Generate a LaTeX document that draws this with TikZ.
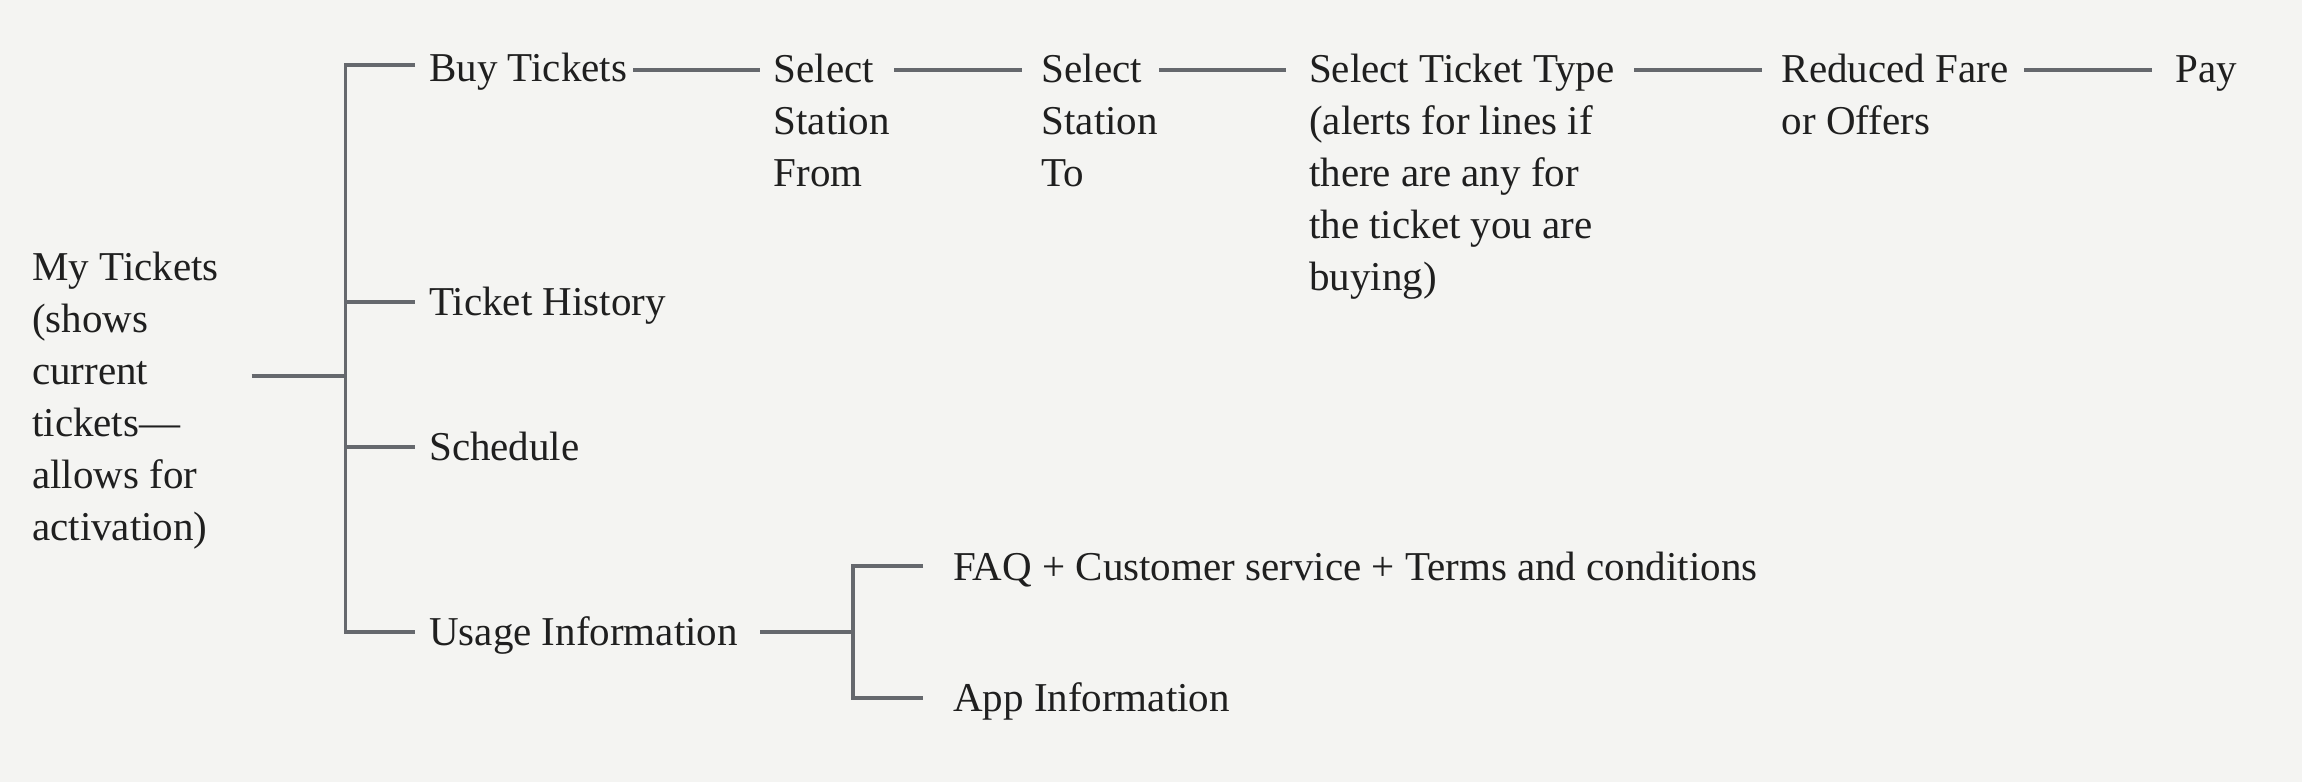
\documentclass[tikz,border=0pt]{standalone}
\usepackage{fontspec}
\setmainfont{Liberation Serif}
\definecolor{bgc}{HTML}{F4F4F2}
\definecolor{linec}{HTML}{65686D}
\definecolor{textc}{HTML}{1F1F1F}
\begin{document}
\begin{tikzpicture}[x=0.3pt,y=-0.3pt,
  lbl/.style={anchor=north west,inner sep=0pt,align=left,text=textc,
    font=\fontsize{12.3pt}{15.6pt}\selectfont,
    yshift=10.92pt},
  conn/.style={draw=linec,line width=1.1pt,line join=miter}]
\fill[bgc] (0,0) rectangle (2302,782);
\useasboundingbox (0,0) rectangle (2302,782);

% nodes (positioned by the baseline of their first line)
\node[lbl] (mt) at (31.6,280) {\strut My Tickets\\(shows\\current\\tickets—\\allows for\\activation)};
\node[lbl] (bt) at (428.6,81) {\strut Buy Tickets};
\node[lbl] (th) at (428.6,315) {\strut Ticket History};
\node[lbl] (sc) at (428.6,460) {\strut Schedule};
\node[lbl] (ui) at (428.6,645) {\strut Usage Information};
\node[lbl] (sf) at (773,82) {\strut Select\\Station\\From};
\node[lbl] (st) at (1041,82) {\strut Select\\Station\\To};
\node[lbl] (stt) at (1308.5,82) {\strut Select Ticket Type\\(alerts for lines if\\there are any for\\the ticket you are\\buying)};
\node[lbl] (rf) at (1781,82) {\strut Reduced Fare\\or Offers};
\node[lbl] (pay) at (2175,82) {\strut Pay};
\node[lbl] (faq) at (952.5,580) {\strut FAQ + Customer service + Terms and conditions};
\node[lbl] (app) at (952.5,711) {\strut App Information};

% coordinates for the tree from My Tickets
\coordinate (r0) at (251.5,376);
\coordinate (t0) at (345.4,376);
\coordinate (t1) at (345.4,65);
\coordinate (t2) at (345.4,302);
\coordinate (t3) at (345.4,447);
\coordinate (t4) at (345.4,632);
\coordinate (e1) at (415,65);
\coordinate (e2) at (415,302);
\coordinate (e3) at (415,447);
\coordinate (e4) at (415,632);

\draw[conn] (r0) -- (t0);
\draw[conn] (e1) -- (t1) -- (t4) -- (e4);
\draw[conn] (t2) -- (e2);
\draw[conn] (t3) -- (e3);

% chain of buying steps
\coordinate (c1a) at (633,70);   \coordinate (c1b) at (760,70);
\coordinate (c2a) at (894,70);   \coordinate (c2b) at (1021.5,70);
\coordinate (c3a) at (1159,70);  \coordinate (c3b) at (1285.5,70);
\coordinate (c4a) at (1634,70);  \coordinate (c4b) at (1762,70);
\coordinate (c5a) at (2024,70);  \coordinate (c5b) at (2152,70);
\draw[conn] (c1a) -- (c1b);
\draw[conn] (c2a) -- (c2b);
\draw[conn] (c3a) -- (c3b);
\draw[conn] (c4a) -- (c4b);
\draw[conn] (c5a) -- (c5b);

% usage information branch
\coordinate (u0) at (760,632);
\coordinate (u1) at (853,632);
\coordinate (ua) at (853,565.7);
\coordinate (ub) at (853,697.7);
\coordinate (uea) at (923,565.7);
\coordinate (ueb) at (923,697.7);
\draw[conn] (u0) -- (u1);
\draw[conn] (uea) -- (ua) -- (ub) -- (ueb);
\end{tikzpicture}
\end{document}
